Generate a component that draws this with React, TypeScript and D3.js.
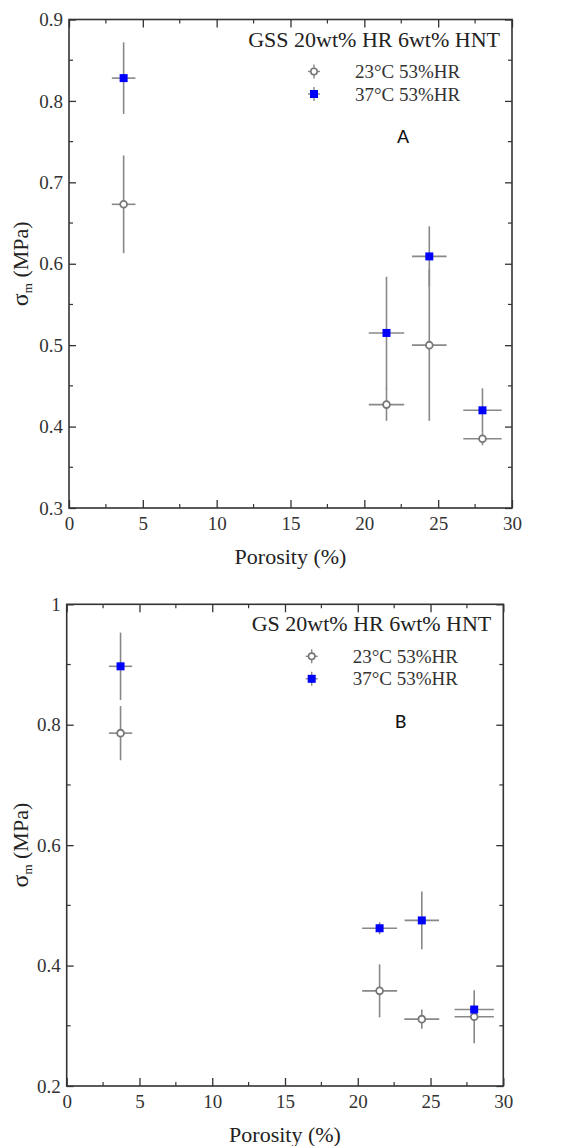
import React, { useEffect, useRef } from 'react';
import * as d3 from 'd3';

// porosity (%) of the four samples, same for both panels
const porosity = [3.7, 21.5, 24.4, 28.0];

// panel A : GSS 20wt% HR 6wt% HNT
const strength23A = [0.673, 0.427, 0.5, 0.385];
const yErr23A = [0.06, 0.02, 0.093, 0.008];
const xErr23A = [0.8, 1.2, 1.17, 1.3];
const strength37A = [0.828, 0.515, 0.609, 0.42];
const yErr37A = [0.044, 0.069, 0.037, 0.027];
const xErr37A = [0.8, 1.2, 1.17, 1.3];

// panel B : GS 20wt% HR 6wt% HNT
const strength23B = [0.786, 0.358, 0.311, 0.315];
const yErr23B = [0.045, 0.044, 0.016, 0.044];
const xErr23B = [0.8, 1.2, 1.2, 1.35];
const strength37B = [0.897, 0.462, 0.475, 0.327];
const yErr37B = [0.056, 0.01, 0.048, 0.01];
const xErr37B = [0.8, 1.2, 1.18, 1.35];

const xTicks = [0, 5, 10, 15, 20, 25, 30];
const yTicksA = [0.3, 0.4, 0.5, 0.6, 0.7, 0.8, 0.9];
const yTicksB = [0.2, 0.4, 0.6, 0.8, 1];
const seriesNames = ['23°C 53%HR', '37°C 53%HR'];

const serif = '"Liberation Serif", "Times New Roman", serif';
const axisColor = '#333';
const barColor = '#888';
const blue = '#0000ff';

type Pt = { x: number; y: number; ex: number; ey: number };
const zip = (ys: number[], ey: number[], ex: number[]): Pt[] =>
  porosity.map((x, i) => ({ x, y: ys[i], ex: ex[i], ey: ey[i] }));

function drawPanel(
  svg: d3.Selection<SVGSVGElement, unknown, null, undefined>,
  opt: {
    box: { left: number; right: number; top: number; bottom: number };
    yDomain: [number, number];
    yTicks: number[];
    yMinorStep: number;
    yFormat: (d: number) => string;
    title: string;
    letter: string;
    gray: Pt[];
    blueS: Pt[];
  }
) {
  const { box } = opt;
  const x = d3.scaleLinear().domain([0, 30]).range([box.left, box.right]);
  const y = d3.scaleLinear().domain(opt.yDomain).range([box.bottom, box.top]);
  const g = svg.append('g');

  const xMinor = d3.range(2.5, 30, 5);
  const yMinor = d3
    .range(opt.yDomain[0], opt.yDomain[1] + 1e-9, opt.yMinorStep)
    .filter((v) => !opt.yTicks.some((t) => Math.abs(t - v) < 1e-6));

  // inward ticks on all four sides
  const bottomAxis = d3.axisBottom(x).tickValues(xTicks).tickSize(-8).tickPadding(9).tickFormat(d3.format('d'));
  const topAxis = d3.axisTop(x).tickValues(xTicks).tickSize(-8).tickFormat(() => '');
  const leftAxis = d3.axisLeft(y).tickValues(opt.yTicks).tickSize(-7).tickPadding(6).tickFormat((d) => opt.yFormat(+d));
  const rightAxis = d3.axisRight(y).tickValues(opt.yTicks).tickSize(-7).tickFormat(() => '');

  const styleAxis = (sel: d3.Selection<SVGGElement, unknown, null, undefined>) => {
    sel.select('.domain').remove();
    sel.selectAll('line').attr('stroke', axisColor).attr('stroke-width', 1.3);
    sel.selectAll('text').attr('font-family', serif).attr('font-size', 19).attr('fill', axisColor);
  };

  g.append('g').attr('transform', `translate(0,${box.bottom})`).call(bottomAxis).call(styleAxis);
  g.append('g').attr('transform', `translate(0,${box.top})`).call(topAxis).call(styleAxis);
  g.append('g').attr('transform', `translate(${box.left},0)`).call(leftAxis).call(styleAxis);
  g.append('g').attr('transform', `translate(${box.right},0)`).call(rightAxis).call(styleAxis);

  const minor = g.append('g').attr('stroke', axisColor).attr('stroke-width', 1.2);
  xMinor.forEach((v) => {
    minor.append('line').attr('x1', x(v)).attr('x2', x(v)).attr('y1', box.bottom).attr('y2', box.bottom - 4);
    minor.append('line').attr('x1', x(v)).attr('x2', x(v)).attr('y1', box.top).attr('y2', box.top + 4);
  });
  yMinor.forEach((v) => {
    minor.append('line').attr('x1', box.left).attr('x2', box.left + 4).attr('y1', y(v)).attr('y2', y(v));
    minor.append('line').attr('x1', box.right).attr('x2', box.right - 4).attr('y1', y(v)).attr('y2', y(v));
  });

  g.append('rect')
    .attr('x', box.left)
    .attr('y', box.top)
    .attr('width', box.right - box.left)
    .attr('height', box.bottom - box.top)
    .attr('fill', 'none')
    .attr('stroke', axisColor)
    .attr('stroke-width', 1.6);

  // error bars
  const drawBars = (pts: Pt[]) => {
    const b = g.append('g').attr('stroke', barColor).attr('stroke-width', 1.6);
    pts.forEach((p) => {
      b.append('line').attr('x1', x(p.x - p.ex)).attr('x2', x(p.x + p.ex)).attr('y1', y(p.y)).attr('y2', y(p.y));
      b.append('line').attr('x1', x(p.x)).attr('x2', x(p.x)).attr('y1', y(p.y - p.ey)).attr('y2', y(p.y + p.ey));
    });
  };
  drawBars(opt.gray);
  drawBars(opt.blueS);

  g.append('g')
    .selectAll('circle')
    .data(opt.gray)
    .join('circle')
    .attr('cx', (d) => x(d.x))
    .attr('cy', (d) => y(d.y))
    .attr('r', 3.4)
    .attr('fill', '#fff')
    .attr('stroke', '#777')
    .attr('stroke-width', 1.8);

  g.append('g')
    .selectAll('rect')
    .data(opt.blueS)
    .join('rect')
    .attr('x', (d) => x(d.x) - 4)
    .attr('y', (d) => y(d.y) - 4)
    .attr('width', 8)
    .attr('height', 8)
    .attr('fill', blue);

  // legend
  g.append('text')
    .attr('x', box.right - 12)
    .attr('y', box.top + 27)
    .attr('text-anchor', 'end')
    .attr('font-family', serif)
    .attr('font-size', 22)
    .attr('fill', '#222')
    .text(opt.title);

  seriesNames.forEach((name, i) => {
    const ly = box.top + 52 + i * 22.5;
    const mx = box.left + 245;
    const lg = g.append('g');
    lg.append('line').attr('x1', mx - 6).attr('x2', mx + 6).attr('y1', ly).attr('y2', ly).attr('stroke', barColor).attr('stroke-width', 1.4);
    lg.append('line').attr('x1', mx).attr('x2', mx).attr('y1', ly - 7).attr('y2', ly + 7).attr('stroke', barColor).attr('stroke-width', 1.4);
    if (i === 0) {
      lg.append('circle').attr('cx', mx).attr('cy', ly).attr('r', 3.2).attr('fill', '#fff').attr('stroke', '#777').attr('stroke-width', 1.6);
    } else {
      lg.append('rect').attr('x', mx - 4).attr('y', ly - 4).attr('width', 8).attr('height', 8).attr('fill', blue);
    }
    lg.append('text')
      .attr('x', mx + 41)
      .attr('y', ly)
      .attr('dy', '0.35em')
      .attr('font-family', serif)
      .attr('font-size', 19)
      .attr('fill', '#333')
      .text(name);
  });

  g.append('text')
    .attr('x', box.left + 334)
    .attr('y', box.top + 116)
    .attr('dy', '0.35em')
    .attr('text-anchor', 'middle')
    .attr('font-family', 'Carlito, Calibri, "Open Sans", sans-serif')
    .attr('font-size', 21)
    .attr('fill', '#111')
    .text(opt.letter);

  // axis titles
  g.append('text')
    .attr('x', (box.left + box.right) / 2)
    .attr('y', box.bottom + 56)
    .attr('text-anchor', 'middle')
    .attr('font-family', serif)
    .attr('font-size', 22)
    .attr('fill', '#222')
    .text('Porosity (%)');

  const yl = g
    .append('text')
    .attr('transform', `translate(28,${(box.top + box.bottom) / 2}) rotate(-90)`)
    .attr('text-anchor', 'middle')
    .attr('font-family', serif)
    .attr('font-size', 22)
    .attr('fill', '#222');
  yl.append('tspan').attr('font-size', 24).text('σ');
  yl.append('tspan').attr('font-size', 13).attr('dy', 4).text('m');
  yl.append('tspan').attr('dy', -4).text(' (MPa)');
}

export default function App() {
  const ref = useRef<SVGSVGElement>(null);

  useEffect(() => {
    const svg = d3.select(ref.current as SVGSVGElement);
    svg.selectAll('*').remove();
    drawPanel(svg, {
      box: { left: 69, right: 512, top: 19.5, bottom: 508 },
      yDomain: [0.3, 0.9],
      yTicks: yTicksA,
      yMinorStep: 0.05,
      yFormat: d3.format('.1f'),
      title: 'GSS 20wt% HR 6wt% HNT',
      letter: 'A',
      gray: zip(strength23A, yErr23A, xErr23A),
      blueS: zip(strength37A, yErr37A, xErr37A),
    });
    drawPanel(svg, {
      box: { left: 66.7, right: 503.3, top: 604.3, bottom: 1086 },
      yDomain: [0.2, 1],
      yTicks: yTicksB,
      yMinorStep: 0.1,
      yFormat: (d) => (d === 1 ? '1' : d3.format('.1f')(d)),
      title: 'GS 20wt% HR 6wt% HNT',
      letter: 'B',
      gray: zip(strength23B, yErr23B, xErr23B),
      blueS: zip(strength37B, yErr37B, xErr37B),
    });
  }, []);

  return (
    <svg
      ref={ref}
      width={581}
      height={1146}
      viewBox="0 0 581 1146"
      style={{ position: 'absolute', left: 0, top: 0, background: '#fff' }}
    />
  );
}
